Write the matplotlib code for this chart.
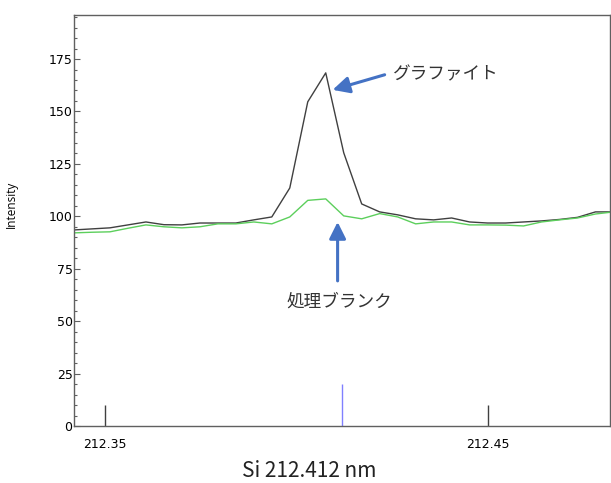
import numpy as np
import matplotlib
matplotlib.use("Agg")
import matplotlib.pyplot as plt
from matplotlib.ticker import MultipleLocator

# wavelength grid (nm) and intensities
wavelength = 212.3419 + 0.0047 * np.arange(31)
graphite = [93.5, 94.0, 94.5, 95.9, 97.3, 96.0, 95.9, 96.8, 96.8, 96.8,
            98.3, 99.7, 113.5, 154.6, 168.4, 130.3, 105.9, 102.1, 100.7, 98.8,
            98.3, 99.2, 97.3, 96.8, 96.8, 97.3, 97.8, 98.5, 99.5, 102.1, 102.1]
blank = [92.1, 92.4, 92.6, 94.3, 95.9, 95.0, 94.5, 95.0, 96.4, 96.4,
         97.3, 96.4, 99.7, 107.6, 108.3, 100.2, 98.8, 101.3, 99.7, 96.4,
         97.3, 97.3, 95.9, 95.9, 95.8, 95.4, 97.3, 98.3, 99.2, 101.1, 102.1]
x_ticks = [212.35, 212.45]
x_tick_labels = ["212.35", "212.45"]
line_wl = 212.412

jp = ["Noto Sans CJK JP", "DejaVu Sans"]

fig = plt.figure(figsize=(6.11, 4.83), dpi=100)
ax = fig.add_axes([74 / 611, 57 / 483, 536 / 611, 411 / 483])

ax.plot(wavelength, graphite, color="#404040", lw=1.0)
ax.plot(wavelength, blank, color="#5ccf5c", lw=1.0)

# element line marker
ax.vlines(line_wl, 0, 20, color="#8080ff", lw=1.0)

ax.set_xlim(212.3419, 212.482)
ax.set_ylim(0, 196)

ax.set_xticks(x_ticks)
ax.set_xticklabels(x_tick_labels, fontsize=9)
ax.tick_params(axis="x", direction="in", length=15, width=1, color="#404040", pad=9)
ax.yaxis.set_major_locator(MultipleLocator(25))
ax.yaxis.set_minor_locator(MultipleLocator(5))
ax.tick_params(axis="y", which="major", direction="in", length=4.5, width=0.8,
               color="#606060", pad=1, labelsize=9)
ax.tick_params(axis="y", which="minor", direction="in", length=2.5, width=0.8,
               color="#606060")

for s in ax.spines.values():
    s.set_color("#606060")
    s.set_linewidth(1.0)

ax.set_ylabel("Intensity", family="Open Sans", fontsize=8.5)
ax.yaxis.set_label_coords(-0.105, 0.54)
fig.text(309 / 611, 12 / 483, "Si 212.412 nm", family=jp, fontsize=15,
         color="#222222", ha="center", va="center")

arrow = dict(arrowstyle="-|>,head_length=1.0,head_width=0.5", color="#4472c4", lw=2.2,
             shrinkA=0, shrinkB=0)
ax.annotate("", xy=(212.4095, 160.3), xytext=(212.4231, 167.5), arrowprops=arrow)
ax.text(212.4252, 167.5, "グラファイト", family=jp, fontsize=12.7,
        color="#333333", va="center", ha="left")
ax.annotate("", xy=(212.4108, 97.3), xytext=(212.4108, 69.2), arrowprops=arrow)
ax.text(212.4114, 59.5, "処理ブランク", family=jp, fontsize=12.7,
        color="#333333", va="center", ha="center")

fig.savefig("out.png", dpi=100)
